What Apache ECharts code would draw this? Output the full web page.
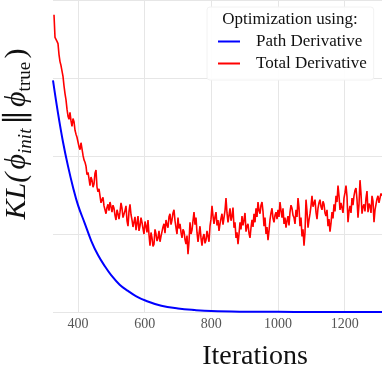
<!DOCTYPE html>
<html>
<head>
<meta charset="utf-8">
<script src="https://cdn.jsdelivr.net/npm/echarts@6/dist/echarts.min.js"></script>
<style>
  html, body { margin: 0; padding: 0; background: #fff; }
  #kl_chart { width: 382px; height: 370px; }
</style>
</head>
<body>
<div id="kl_chart"></div>
<script>
// noisy series: starts at iteration 328, one value every 3 iterations
var redStart = 328;
var redStep = 3;
var totalVals = [
  3.81, 3.52, 3.51, 3.47, 3.44, 3.30, 3.21, 3.16, 3.14, 3.02,
  2.90, 2.80, 2.72, 2.60, 2.51, 2.47, 2.56, 2.45, 2.38, 2.48,
  2.44, 2.33, 2.28, 2.24, 2.18, 2.12, 2.08, 2.17, 2.15, 2.01,
  1.95, 1.92, 1.87, 1.76, 1.79, 1.71, 1.62, 1.73, 1.69, 1.60,
  1.64, 1.78, 1.82, 1.60, 1.54, 1.58, 1.49, 1.40, 1.44, 1.47,
  1.36, 1.31, 1.26, 1.34, 1.38, 1.30, 1.41, 1.35, 1.28, 1.37,
  1.33, 1.24, 1.18, 1.31, 1.26, 1.19, 1.28, 1.40, 1.33, 1.21,
  1.23, 1.30, 1.36, 1.17, 1.10, 1.29, 1.38, 1.25, 1.18, 1.09,
  1.10, 1.22, 1.05, 1.14, 1.23, 1.04, 1.10, 1.21, 1.15, 1.07,
  1.00, 1.16, 1.10, 1.02, 1.18, 0.99, 0.85, 1.02, 0.95, 0.84,
  0.87, 1.06, 1.00, 0.91, 0.95, 1.04, 0.90, 0.97, 1.03, 1.09,
  1.13, 1.01, 1.18, 1.12, 1.08, 1.22, 1.26, 1.12, 1.18, 1.27,
  1.31, 1.17, 1.08, 1.00, 1.21, 1.07, 1.13, 1.02, 0.95, 1.06,
  1.03, 0.93, 0.87, 0.98, 0.74, 0.90, 1.15, 1.00, 1.05, 1.17,
  1.28, 1.12, 1.21, 1.02, 0.90, 1.00, 1.10, 0.95, 0.85, 0.96,
  1.00, 0.88, 0.92, 1.04, 0.97, 0.90, 1.10, 1.19, 1.36, 1.23,
  1.13, 1.22, 1.28, 1.11, 1.18, 1.04, 1.13, 1.20, 1.26, 1.12,
  1.21, 1.30, 1.46, 1.27, 1.15, 1.24, 1.33, 1.17, 1.23, 1.34,
  1.08, 1.15, 0.95, 1.02, 0.87, 1.00, 1.15, 1.06, 1.23, 1.11,
  1.18, 1.27, 1.03, 1.10, 1.13, 1.01, 0.95, 1.08, 1.18, 1.09,
  1.26, 1.15, 1.33, 1.22, 1.41, 1.30, 1.26, 1.37, 1.41, 1.29,
  1.10, 1.21, 1.00, 1.09, 0.92, 1.04, 1.18, 1.27, 1.33, 1.20,
  1.15, 1.24, 1.28, 1.19, 1.31, 1.22, 1.41, 1.30, 1.21, 1.33,
  1.13, 1.21, 1.08, 1.17, 1.23, 1.11, 1.28, 1.37, 1.33, 1.24,
  1.21, 1.13, 1.31, 1.22, 1.46, 1.34, 1.10, 1.21, 0.97, 1.06,
  0.85, 1.02, 1.44, 1.29, 1.08, 1.18, 1.26, 1.36, 1.49, 1.35,
  1.36, 1.44, 1.28, 1.19, 1.33, 1.40, 1.44, 1.35, 1.31, 1.42,
  1.38, 1.27, 1.23, 1.31, 1.10, 1.19, 1.03, 1.14, 1.28, 1.20,
  1.38, 1.29, 1.49, 1.41, 1.62, 1.49, 1.31, 1.40, 1.38, 1.27,
  1.46, 1.53, 1.62, 1.48, 1.15, 1.29, 1.36, 1.27, 1.46, 1.37,
  1.49, 1.56, 1.59, 1.44, 1.21, 1.38, 1.69, 1.52, 1.26, 1.35,
  1.38, 1.29, 1.46, 1.55, 1.28, 1.39, 1.36, 1.27, 1.49, 1.42,
  1.15, 1.31, 1.38, 1.45, 1.49, 1.40, 1.41, 1.52, 1.49
];

var pathIters = [325, 340, 355, 370, 385, 400, 420, 440, 460, 480, 500, 525, 550,
  575, 600, 650, 700, 750, 800, 900, 1000, 1100, 1200, 1312];
var pathVals = [2.97, 2.55, 2.18, 1.87, 1.60, 1.37, 1.14, 0.91, 0.73, 0.59, 0.47, 0.35, 0.27,
  0.20, 0.15, 0.08, 0.045, 0.025, 0.012, 0.004, 0.002, 0.001, 0, 0];

var xTicks = [400, 600, 800, 1000, 1200];

var chart = echarts.init(document.getElementById('kl_chart'));

var totalData = totalVals.map(function (v, i) {
  return [redStart + i * redStep, v];
});
var pathData = pathIters.map(function (it, i) {
  return [it, pathVals[i]];
});

var serif = 'Liberation Serif';

chart.setOption({
  backgroundColor: '#fff',
  animation: false,
  grid: { left: 53, right: 0, top: 0, bottom: 58 },
  xAxis: {
    type: 'value',
    min: 325,
    max: 1312,
    axisLine: { show: false },
    axisTick: { show: false, customValues: xTicks },
    axisLabel: {
      customValues: xTicks,
      formatter: function (v) { return String(v); },
      color: '#555',
      fontFamily: serif,
      fontSize: 14,
      margin: 5
    },
    splitLine: { show: true, customValues: xTicks, lineStyle: { color: '#e6e6e6', width: 1 } }
  },
  yAxis: {
    type: 'value',
    min: 0,
    max: 4,
    interval: 1,
    axisLine: { show: false },
    axisTick: { show: false },
    axisLabel: { show: false },
    splitLine: { lineStyle: { color: '#e6e6e6', width: 1 } }
  },
  legend: {
    orient: 'vertical',
    left: 207,
    top: 7,
    padding: [26, 7, 8, 11],
    itemGap: 5,
    itemWidth: 22,
    itemHeight: 2,
    icon: 'rect',
    backgroundColor: 'rgba(255,255,255,0.9)',
    borderColor: '#f2f2f2',
    borderWidth: 1,
    borderRadius: 3,
    textStyle: {
      fontFamily: serif,
      fontSize: 17,
      color: '#111',
      padding: [0, 0, 0, 11]
    },
    data: ['Path Derivative', 'Total Derivative']
  },
  graphic: [
    {
      type: 'text',
      z: 100,
      x: 290,
      y: 20,
      style: {
        text: 'Optimization using:',
        font: '17px "Liberation Serif"',
        fill: '#111',
        align: 'center',
        verticalAlign: 'middle'
      }
    },
    {
      type: 'text',
      z: 100,
      x: 255,
      y: 357,
      style: {
        text: 'Iterations',
        font: '28px "Liberation Serif"',
        fill: '#111',
        align: 'center',
        verticalAlign: 'middle'
      }
    },
    {
      type: 'text',
      z: 100,
      x: 17,
      y: 134,
      rotation: Math.PI / 2,
      style: {
        text: '{it|KL(} {it|\u03d5}{sub|init} {n|\u2225} {it|\u03d5}{subr|true} {n|)}',
        align: 'center',
        verticalAlign: 'middle',
        fill: '#111',
        rich: {
          it: { font: 'italic 30px "Liberation Serif"', fill: '#111', lineHeight: 36 },
          n: { font: '30px "Liberation Serif"', fill: '#111', lineHeight: 36 },
          sub: { font: 'italic 19px "Liberation Serif"', fill: '#111', lineHeight: 16, verticalAlign: 'bottom' },
          subr: { font: '19px "Liberation Serif"', fill: '#111', lineHeight: 16, verticalAlign: 'bottom' }
        }
      }
    }
  ],
  series: [
    {
      name: 'Path Derivative',
      type: 'line',
      data: pathData,
      symbol: 'none',
      smooth: 0.4,
      color: '#0000ff',
      lineStyle: { width: 2, color: '#0000ff' },
      z: 3
    },
    {
      name: 'Total Derivative',
      type: 'line',
      data: totalData,
      symbol: 'none',
      color: '#ff0000',
      lineStyle: { width: 1.6, color: '#ff0000' },
      z: 2
    }
  ]
});
</script>
</body>
</html>
